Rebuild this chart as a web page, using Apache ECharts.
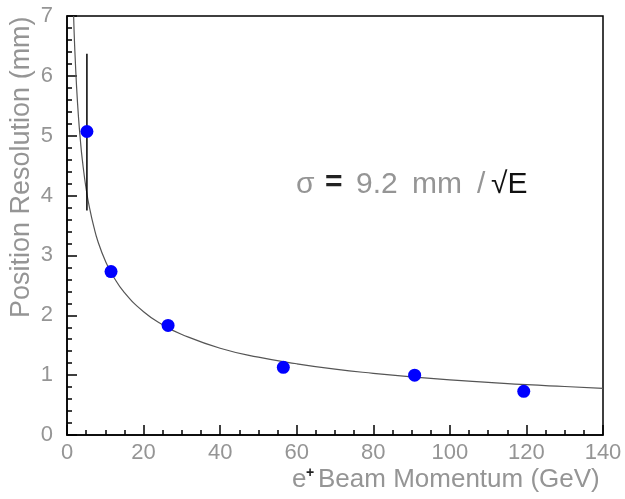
<!DOCTYPE html>
<html><head><meta charset="utf-8">
<script src="https://cdn.jsdelivr.net/npm/echarts@6/dist/echarts.min.js"></script>
<style>html,body{margin:0;padding:0;background:#fff}#c{width:625px;height:499px}</style>
</head><body><div id="c"></div>
<script>
// Measured points (beam momentum GeV, resolution mm)
var momentum = [5.2, 11.5, 26.4, 56.5, 90.8, 119.3];
var resolution = [5.07, 2.73, 1.83, 1.13, 1.0, 0.73];
// Error bar on first point: [x, low, high]
var errorBars = [[5.2, 3.75, 6.37]];
// Fit curve
var curveE = [1.73, 2, 2.5, 3, 3.5, 4, 5, 6, 7, 8, 10, 12, 15, 20, 25, 30, 40, 50, 60, 70, 80, 90, 100, 110, 120, 130, 140];
var curveSigma = [7.0, 6.5, 5.82, 5.31, 4.92, 4.6, 4.11, 3.76, 3.48, 3.25, 2.91, 2.66, 2.38, 2.06, 1.84, 1.68, 1.45, 1.3, 1.19, 1.1, 1.03, 0.97, 0.92, 0.88, 0.84, 0.81, 0.78];
var xTicks = [0, 20, 40, 60, 80, 100, 120, 140];
var yTicks = [0, 1, 2, 3, 4, 5, 6, 7];

var chart = echarts.init(document.getElementById('c'));
var font = 'Liberation Sans, Arial, sans-serif';
var gray = '#959595';
chart.setOption({
  animation: false,
  grid: {left: 67, right: 22, top: 16, bottom: 64, show: true, borderColor: '#000', borderWidth: 1.5},
  xAxis: {
    type: 'value', min: xTicks[0], max: xTicks[xTicks.length - 1], interval: 20,
    axisLine: {show: true, lineStyle: {color: '#000', width: 1.5}},
    axisTick: {show: true, inside: true, length: 10, lineStyle: {color: '#000', width: 1.5}},
    minorTick: {show: true, splitNumber: 4, length: 5, lineStyle: {color: '#000', width: 1.5}},
    splitLine: {show: false},
    axisLabel: {color: gray, fontSize: 22, fontFamily: font, margin: 7}
  },
  yAxis: {
    type: 'value', min: yTicks[0], max: yTicks[yTicks.length - 1], interval: 1,
    axisLine: {show: true, lineStyle: {color: '#000', width: 1.5}},
    axisTick: {show: true, inside: true, length: 10, lineStyle: {color: '#000', width: 1.5}},
    minorTick: {show: true, splitNumber: 5, length: 5, lineStyle: {color: '#000', width: 1.5}},
    splitLine: {show: false},
    axisLabel: {color: gray, fontSize: 22, fontFamily: font, margin: 14}
  },
  graphic: [
    {type: 'text', left: 292, top: 467, style: {text: 'e', fill: gray, font: '26px ' + font}},
    {type: 'text', left: 306, top: 466, style: {text: '+', fill: '#222', font: 'bold 14px ' + font}},
    {type: 'text', left: 318, top: 467, style: {text: 'Beam Momentum (GeV)', fill: gray, font: '26px ' + font}},
    {type: 'text', x: 8, y: 318, rotation: Math.PI / 2, style: {text: 'Position Resolution (mm)', fill: gray, font: '27px ' + font}},
    {type: 'text', left: 296, top: 170, style: {text: 'σ', fill: gray, font: '30px ' + font}},
    {type: 'text', left: 325, top: 168, style: {text: '=', fill: '#222', font: 'bold 30px ' + font}},
    {type: 'text', left: 356, top: 170, style: {text: '9.2', fill: gray, font: '30px ' + font}},
    {type: 'text', left: 412, top: 170, style: {text: 'mm', fill: gray, font: '30px ' + font}},
    {type: 'text', left: 477, top: 170, style: {text: '/', fill: gray, font: '30px ' + font}},
    {type: 'text', left: 491, top: 170, style: {text: '√E', fill: '#111', font: '30px ' + font}}
  ],
  series: [
    {type: 'line', data: curveE.map(function (e, i) { return [e, curveSigma[i]]; }),
      smooth: true, showSymbol: false, lineStyle: {color: '#555', width: 1.2}, z: 2},
    {type: 'custom', data: errorBars, z: 3,
      renderItem: function (params, api) {
        var lo = api.coord([api.value(0), api.value(1)]);
        var hi = api.coord([api.value(0), api.value(2)]);
        return {type: 'line', shape: {x1: lo[0], y1: lo[1], x2: hi[0], y2: hi[1]}, style: {stroke: '#000', lineWidth: 1.5}};
      }},
    {type: 'scatter', data: momentum.map(function (m, i) { return [m, resolution[i]]; }),
      symbolSize: 13, itemStyle: {color: '#0000ff', opacity: 1}, z: 4}
  ]
});
</script></body></html>
